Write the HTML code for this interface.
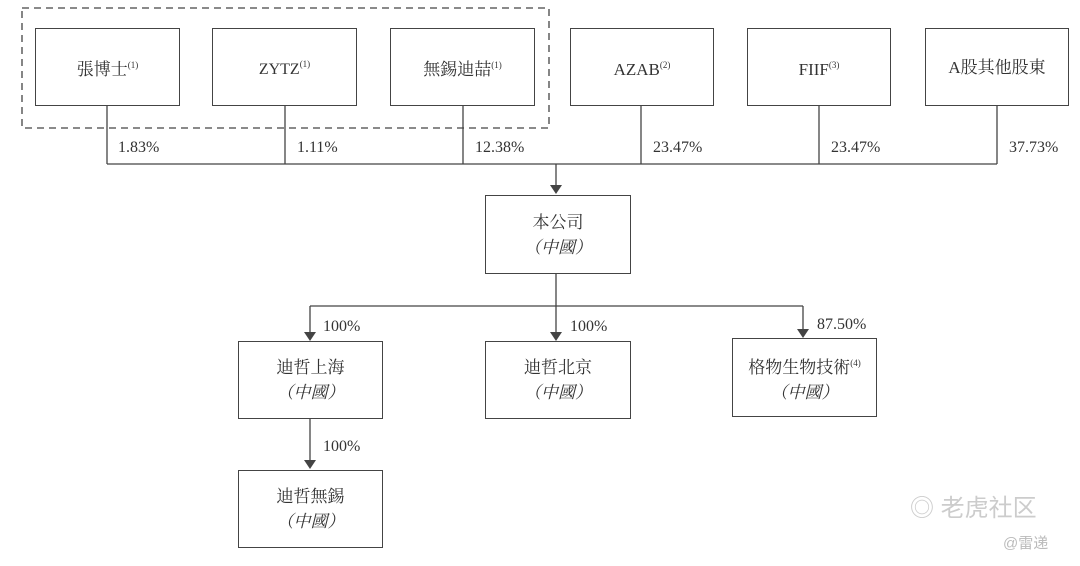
<!DOCTYPE html>
<html><head><meta charset="utf-8"><style>
html,body{margin:0;padding:0;background:#fff}
body{width:1080px;height:566px;position:relative;overflow:hidden;font-family:"Liberation Serif","Noto Serif CJK SC",serif;color:#333}
.b{position:absolute;border:1.5px solid #444;box-sizing:border-box;display:flex;flex-direction:column;align-items:center;justify-content:center;font-size:17px;line-height:25px;background:#fff}
.b i{font-style:italic}
sup{font-size:9px;vertical-align:7px}
.t{position:absolute;font-size:16px;color:#333}
</style></head><body>
<svg width="1080" height="566" style="position:absolute;left:0;top:0">
<rect x="22" y="8" width="527" height="120" fill="none" stroke="#444" stroke-width="1.3" stroke-dasharray="7,5"/>
<g stroke="#444" stroke-width="1.3" fill="none">
<path d="M107 106V164M285 106V164M463 106V164M641 106V164M819 106V164M997 106V164M107 164H997M556 164V187"/>
<path d="M556 274V306M310 306H803M310 306V334M556 306V334M803 306V331M310 418V462"/>
</g>
<g fill="#444">
<path d="M550 185h12l-6 9z"/>
<path d="M304 332h12l-6 9z"/><path d="M550 332h12l-6 9z"/><path d="M797 329h12l-6 9z"/>
<path d="M304 460h12l-6 9z"/>
</g>
</svg>
<div class="b" style="left:35px;top:28px;width:145px;height:78px"><span>張博士<sup>(1)</sup></span></div>
<div class="b" style="left:212px;top:28px;width:145px;height:78px;font-size:16px"><span>ZYTZ<sup>(1)</sup></span></div>
<div class="b" style="left:390px;top:28px;width:145px;height:78px"><span>無錫迪喆<sup>(1)</sup></span></div>
<div class="b" style="left:570px;top:28px;width:144px;height:78px"><span>AZAB<sup>(2)</sup></span></div>
<div class="b" style="left:747px;top:28px;width:144px;height:78px"><span>FIIF<sup>(3)</sup></span></div>
<div class="b" style="left:925px;top:28px;width:144px;height:78px">A股其他股東</div>
<div class="t" style="left:118px;top:139px">1.83%</div>
<div class="t" style="left:297px;top:139px">1.11%</div>
<div class="t" style="left:475px;top:139px">12.38%</div>
<div class="t" style="left:653px;top:139px">23.47%</div>
<div class="t" style="left:831px;top:139px">23.47%</div>
<div class="t" style="left:1009px;top:139px">37.73%</div>
<div class="b" style="left:485px;top:195px;width:146px;height:79px"><span>本公司</span><i>（中國）</i></div>
<div class="t" style="left:323px;top:318px">100%</div>
<div class="t" style="left:570px;top:318px">100%</div>
<div class="t" style="left:817px;top:316px">87.50%</div>
<div class="b" style="left:238px;top:341px;width:145px;height:78px"><span>迪哲上海</span><i>（中國）</i></div>
<div class="b" style="left:485px;top:341px;width:146px;height:78px"><span>迪哲北京</span><i>（中國）</i></div>
<div class="b" style="left:732px;top:338px;width:145px;height:79px"><span>格物生物技術<sup>(4)</sup></span><i>（中國）</i></div>
<div class="t" style="left:323px;top:438px">100%</div>
<div class="b" style="left:238px;top:470px;width:145px;height:78px"><span>迪哲無錫</span><i>（中國）</i></div>
<div style="position:absolute;left:910px;top:488px;font-family:'Liberation Sans','Noto Sans CJK SC',sans-serif;font-size:24px;color:#ccc">◎ 老虎社区</div>
<div style="position:absolute;left:1003px;top:532px;font-family:'Liberation Sans','Noto Sans CJK SC',sans-serif;font-size:15px;color:#bbb">@雷递</div>
</body></html>
